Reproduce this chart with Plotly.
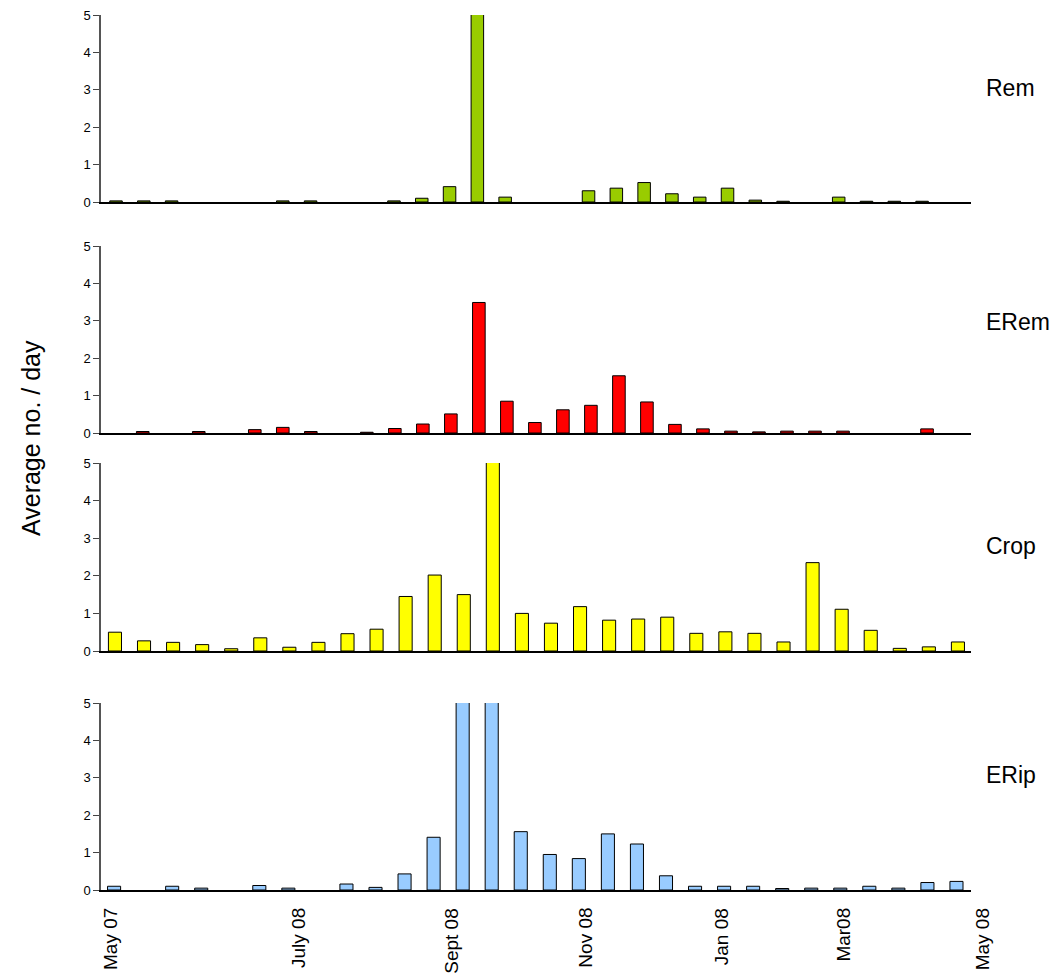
import plotly.graph_objects as go

# ---- data ----
panel_names = ["Rem", "ERem", "Crop", "ERip"]

rem = [0.03, 0.03, 0.03, None, None, None, 0.03, 0.03, None, None, 0.03, 0.1, 0.41, 8.0, 0.13,
       None, None, 0.30, 0.37, 0.52, 0.22, 0.13, 0.37, 0.05, 0.02, None, 0.13, 0.02, 0.02, 0.02, None]
erem = [None, 0.04, None, 0.04, None, 0.09, 0.15, 0.04, None, 0.02, 0.12, 0.24, 0.51, 3.49, 0.85,
        0.28, 0.62, 0.74, 1.53, 0.83, 0.23, 0.11, 0.05, 0.03, 0.05, 0.05, 0.05, None, None, 0.11, None]
crop = [0.50, 0.27, 0.23, 0.17, 0.06, 0.35, 0.10, 0.23, 0.46, 0.58, 1.45, 2.02, 1.50, 8.0, 1.00,
        0.74, 1.18, 0.82, 0.85, 0.90, 0.47, 0.51, 0.47, 0.24, 2.35, 1.11, 0.55, 0.07, 0.11, 0.24]
erip = [0.10, None, 0.10, 0.05, None, 0.12, 0.05, None, 0.16, 0.07, 0.43, 1.41, 8.0, 8.0, 1.56,
        0.95, 0.84, 1.50, 1.23, 0.38, 0.10, 0.10, 0.10, 0.04, 0.05, 0.05, 0.10, 0.05, 0.20, 0.23]

month_labels = ["May 07", "July 08", "Sept 08", "Nov 08", "Jan 08", "Mar08", "May 08"]
month_pos = [-0.14, 6.33, 11.59, 16.2, 20.92, 25.08, 29.89]

y_ticks = [0, 1, 2, 3, 4, 5]

# ---- styling / layout ----
series = [rem, erem, crop, erip]
colors = ["#99CC00", "#FF0000", "#FFFF00", "#99CCFF"]
W, H = 1059, 976
x_left, x_right = 101, 971
panels_px = [(15, 202), (246, 433), (463, 651), (703, 890)]
x_ranges = [[-0.54, 30.76], [-0.49, 30.57], [-0.48, 29.45], [-0.45, 29.5]]
label_y_px = [88, 322, 546, 775]
FONT = "Liberation Sans, Arial, sans-serif"

fig = go.Figure()
for i, (vals, col) in enumerate(zip(series, colors)):
    n = i + 1
    fig.add_trace(go.Bar(
        x=list(range(len(vals))), y=vals,
        marker=dict(color=col, line=dict(color="black", width=1)),
        width=0.45,
        xaxis=f"x{n}" if n > 1 else "x", yaxis=f"y{n}" if n > 1 else "y",
        showlegend=False, hoverinfo="y",
    ))
    top, bot = panels_px[i]
    xa = dict(domain=[x_left / W, x_right / W], range=x_ranges[i],
              showline=True, linecolor="black", linewidth=1.5,
              showticklabels=False, ticks="", showgrid=False, zeroline=False,
              fixedrange=True, automargin=False)
    ya = dict(domain=[1 - bot / H, 1 - top / H], range=[0, 5],
              tickvals=y_ticks, ticks="outside", ticklen=6, tickcolor="#444",
              showline=True, linecolor="#555", linewidth=1.5,
              showgrid=False, zeroline=False,
              tickfont=dict(family=FONT, size=13, color="black"),
              fixedrange=True, automargin=False)
    if n > 1:
        xa["anchor"] = f"y{n}"
        ya["anchor"] = f"x{n}"
    fig.layout[f"xaxis{n}" if n > 1 else "xaxis"] = xa
    fig.layout[f"yaxis{n}" if n > 1 else "yaxis"] = ya


def x4_to_paper(v):
    r0, r1 = x_ranges[3]
    return (x_left + (v - r0) / (r1 - r0) * (x_right - x_left)) / W


annotations = []
for name, ypx in zip(panel_names, label_y_px):
    annotations.append(dict(text=name, xref="paper", yref="paper",
                            x=984 / W, y=1 - ypx / H, xanchor="left", yanchor="middle",
                            showarrow=False, font=dict(family=FONT, size=23, color="black")))
for lab, pos in zip(month_labels, month_pos):
    annotations.append(dict(text=lab, xref="paper", yref="paper", x=x4_to_paper(pos),
                            y=1 - 906 / H, xanchor="center", yanchor="top", textangle=-90,
                            showarrow=False, font=dict(family=FONT, size=19, color="black")))
annotations.append(dict(text="Average no. / day", xref="paper", yref="paper",
                        x=31 / W, y=1 - 438 / H, xanchor="center", yanchor="middle",
                        textangle=-90, showarrow=False,
                        font=dict(family=FONT, size=25, color="black")))

fig.update_layout(
    width=W, height=H, margin=dict(l=0, r=0, t=0, b=0, autoexpand=False),
    plot_bgcolor="white", paper_bgcolor="white",
    bargap=0.55, annotations=annotations,
)

fig.write_html("out.html", config={"displayModeBar": False},
               post_script="document.body.style.margin='0';document.body.style.overflow='hidden';")
